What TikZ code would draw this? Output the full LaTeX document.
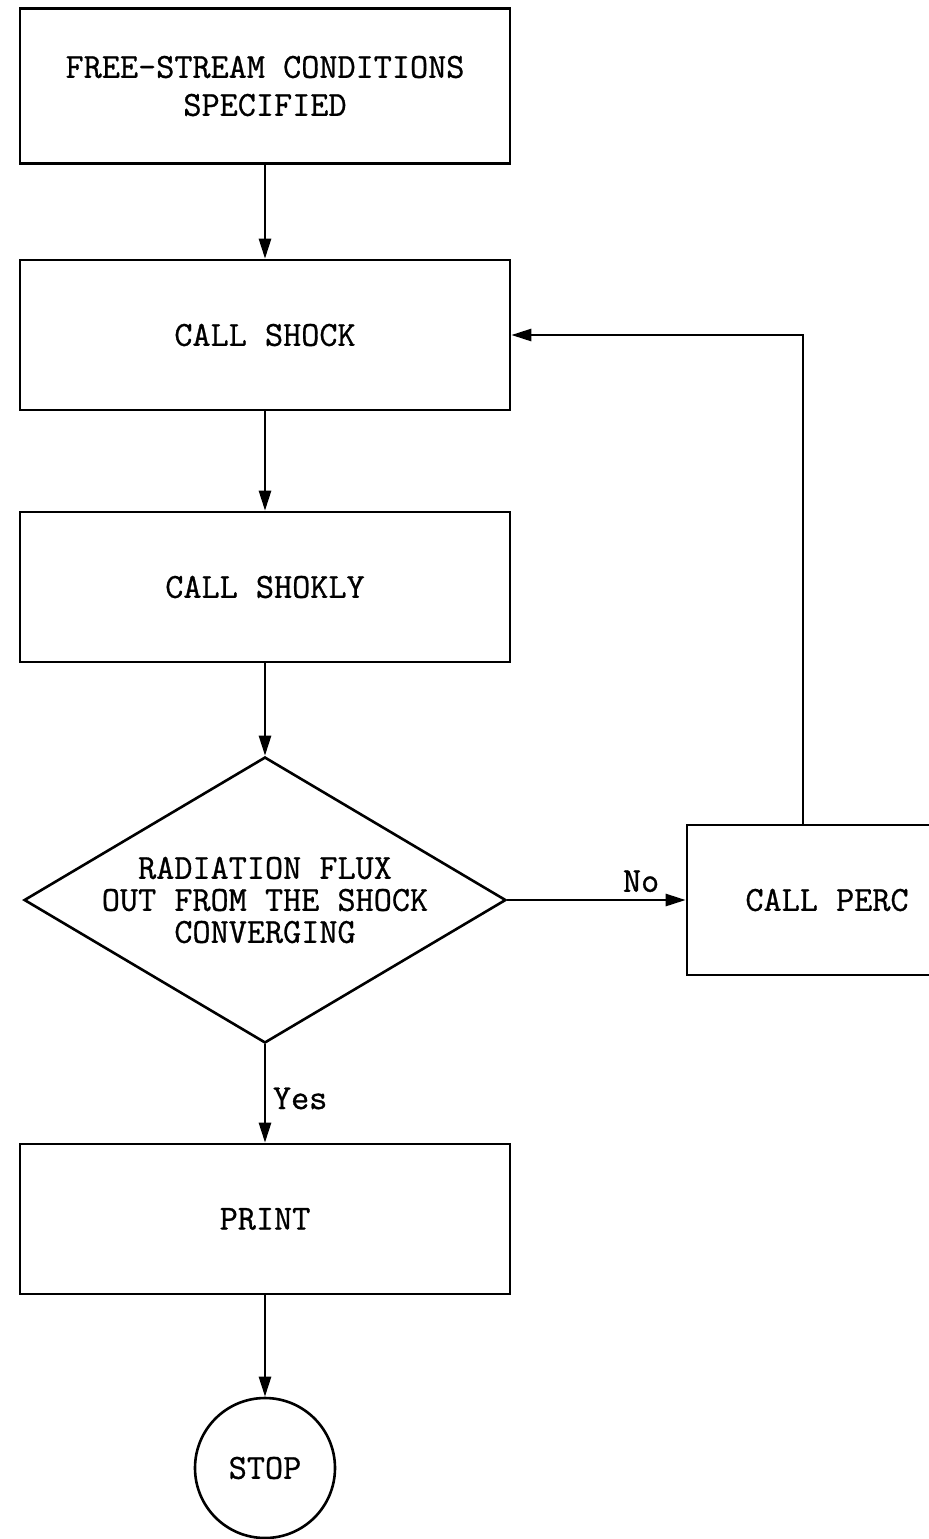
\documentclass[tikz,border=0pt]{standalone}
\usepackage{fontspec}
\newfontfamily\flowfont[FakeBold=0.8]{Latin Modern Mono}
\usetikzlibrary{shapes.geometric, arrows.meta, positioning}

\begin{document}
\begin{tikzpicture}[on grid, >={Triangle[length=10pt,width=6pt]}, line width=1.3pt,
        every node/.style={font=\flowfont\fontsize{17.6}{17}\selectfont},
        procbox/.style={draw, rectangle, minimum width=245pt, minimum height=75pt, align=center},
        decision/.style={draw, diamond, aspect=1.8, minimum height=143pt, inner sep=0pt, align=center},
        terminal/.style={draw, circle, minimum size=70pt, inner sep=0pt}]
    \useasboundingbox (0,0) rectangle (464pt,-769.5pt);

      \node[procbox, minimum height=77.5pt] (start) at (132.5pt,-43pt) {FREE-STREAM CONDITIONS\\[2pt] SPECIFIED};
      \node[procbox] (shock)  [below=124.5pt of start]  {CALL SHOCK};
      \node[procbox] (shokly) [below=126pt of shock]    {CALL SHOKLY};
      \node[decision] (conv)  [below=156.5pt of shokly] {RADIATION FLUX\\[-1pt] OUT FROM THE SHOCK\\[-1pt] CONVERGING};
      \node[procbox, minimum width=140pt] (perc) [right=281pt of conv] {CALL PERC};
      \node[procbox] (print)  [below=159.5pt of conv]   {PRINT};
      \node[terminal] (stop)  [below=124.5pt of print]  {STOP};

      \draw[->] (start) -- (shock);
      \draw[->] (shock) -- (shokly);
      \draw[->] (shokly) -- (conv);
      \draw[->] (conv) -- node[above, pos=0.75] {No} (perc);
      \draw[->] ([xshift=-12pt]perc.north) |- (shock.east);
      \draw[->] (conv) -- node[right, pos=0.55] {Yes} (print);
      \draw[->] (print) -- (stop);
    \end{tikzpicture}
\end{document}
